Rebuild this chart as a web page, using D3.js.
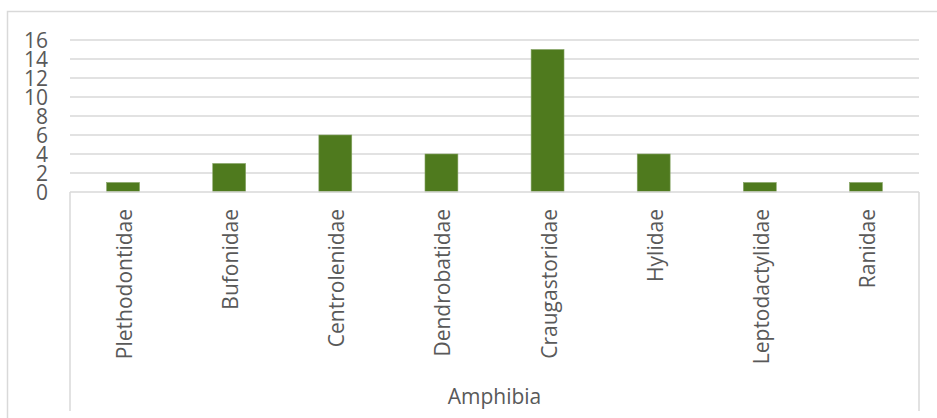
<!DOCTYPE html>
<html>
<head>
<meta charset="utf-8">
<script src="https://cdn.jsdelivr.net/npm/d3@7"></script>
<style>
  html, body { margin: 0; padding: 0; background: #fff; }
  svg { display: block; }
  text { font-family: "Open Sans", "Noto Sans", sans-serif; fill: #595959; }
</style>
</head>
<body>
<svg id="chart" width="937" height="418"></svg>
<script>
// Family counts within the Amphibia group
const families = ["Plethodontidae", "Bufonidae", "Centrolenidae", "Dendrobatidae",
                  "Craugastoridae", "Hylidae", "Leptodactylidae", "Ranidae"];
const counts = [1, 3, 6, 4, 15, 4, 1, 1];
const groupLabel = "Amphibia";
const yTicks = [0, 2, 4, 6, 8, 10, 12, 14, 16];

const svg = d3.select("#chart");
const gridColor = "#d9d9d9";
const barColor = "#4f7a1e";

const plot = { left: 70, right: 919, top: 40, bottom: 192, groupBottom: 411 };

// Chart area border
svg.append("rect")
  .attr("x", 7.5).attr("y", 11.5)
  .attr("width", 940).attr("height", 420)
  .attr("fill", "none").attr("stroke", gridColor).attr("stroke-width", 1.5);

const x = d3.scaleBand()
  .domain(families)
  .range([plot.left, plot.right])
  .paddingInner(0.69)
  .paddingOuter(0.345);

const y = d3.scaleLinear().domain([0, 16]).range([plot.bottom, plot.top]);

// Horizontal gridlines
svg.append("g")
  .selectAll("line")
  .data(yTicks.filter(t => t > 0))
  .join("line")
  .attr("x1", plot.left).attr("x2", plot.right)
  .attr("y1", d => y(d)).attr("y2", d => y(d))
  .attr("stroke", gridColor).attr("stroke-width", 1.5);

// Y axis labels
const yAxis = d3.axisLeft(y).tickValues(yTicks).tickSize(0).tickPadding(0);
const yg = svg.append("g").attr("transform", "translate(48,0)").call(yAxis);
yg.select(".domain").remove();
yg.selectAll("text")
  .attr("font-size", 21)
  .attr("dy", "0.34em")
  .style("font-family", "\"Open Sans\", sans-serif")
  .attr("fill", "#595959");

// Bars
svg.append("g")
  .selectAll("rect")
  .data(families)
  .join("rect")
  .attr("x", d => x(d))
  .attr("width", x.bandwidth())
  .attr("y", (d, i) => y(counts[i]))
  .attr("height", (d, i) => y(0) - y(counts[i]))
  .attr("fill", barColor)
  .attr("stroke", "#86a464")
  .attr("stroke-width", 0.6);

// Category axis baseline and group dividers
svg.append("line")
  .attr("x1", plot.left).attr("x2", plot.right)
  .attr("y1", plot.bottom).attr("y2", plot.bottom)
  .attr("stroke", gridColor).attr("stroke-width", 1.5);

svg.append("g")
  .selectAll("line")
  .data([plot.left, plot.right])
  .join("line")
  .attr("x1", d => d).attr("x2", d => d)
  .attr("y1", plot.bottom).attr("y2", plot.groupBottom)
  .attr("stroke", gridColor).attr("stroke-width", 1.5);

// Rotated family names
svg.append("g")
  .selectAll("text")
  .data(families)
  .join("text")
  .attr("transform", d => `translate(${x(d) + x.bandwidth() / 2 + 9},209) rotate(-90)`)
  .attr("text-anchor", "end")
  .attr("font-size", 21)
  .text(d => d);

// Group label
svg.append("text")
  .attr("x", (plot.left + plot.right) / 2)
  .attr("y", 404)
  .attr("text-anchor", "middle")
  .attr("font-size", 21)
  .text(groupLabel);
</script>
</body>
</html>
